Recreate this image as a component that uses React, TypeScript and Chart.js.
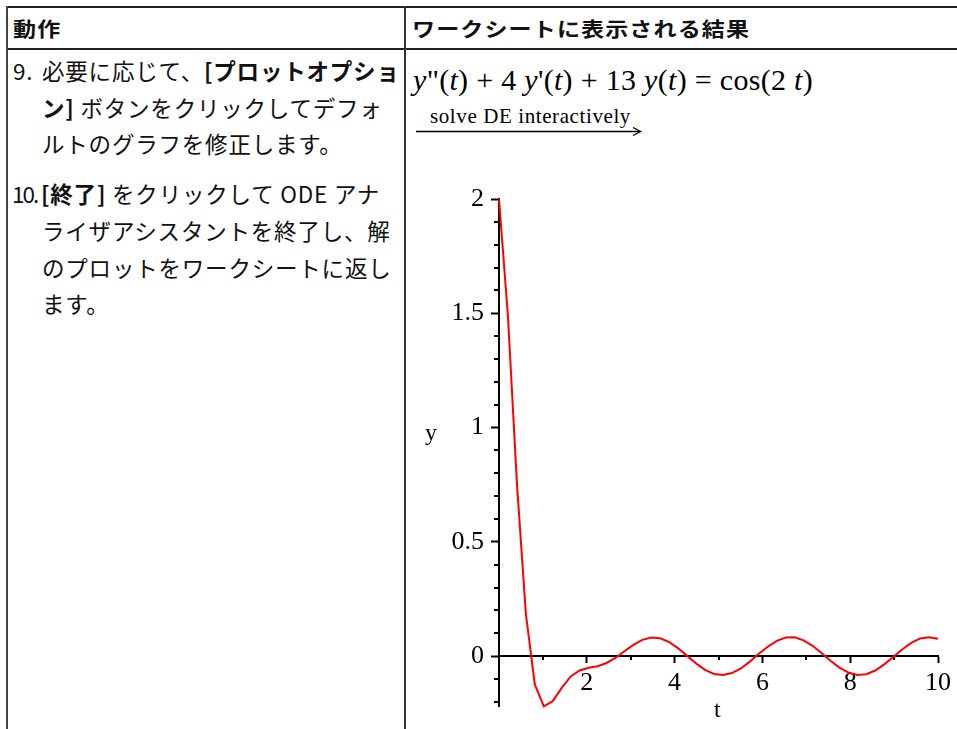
import React, { useEffect, useRef } from "react";
import { Chart, registerables } from "chart.js";

Chart.register(...registerables);

// ---- chart data ----
const T_VALUES = [
  0, 0.204, 0.408, 0.612, 0.816, 1.02, 1.224, 1.429, 1.633, 1.837,
  2.041, 2.245, 2.449, 2.653, 2.857, 3.061, 3.265, 3.469, 3.673, 3.878,
  4.082, 4.286, 4.49, 4.694, 4.898, 5.102, 5.306, 5.51, 5.714, 5.918,
  6.122, 6.327, 6.531, 6.735, 6.939, 7.143, 7.347, 7.551, 7.755, 7.959,
  8.163, 8.367, 8.571, 8.776, 8.98, 9.184, 9.388, 9.592, 9.796, 10,
];
const Y_VALUES = [
  2, 1.486, 0.757, 0.185, -0.124, -0.22, -0.197, -0.139, -0.089, -0.063,
  -0.051, -0.044, -0.03, -0.008, 0.021, 0.049, 0.071, 0.081, 0.078, 0.061,
  0.034, 0.001, -0.032, -0.06, -0.078, -0.083, -0.074, -0.054, -0.024, 0.01,
  0.041, 0.067, 0.081, 0.082, 0.069, 0.045, 0.014, -0.02, -0.05, -0.072,
  -0.083, -0.079, -0.063, -0.036, -0.004, 0.029, 0.058, 0.077, 0.083, 0.076,
];
const X_MIN = 0;
const X_MAX = 10;
const Y_MIN = -0.22;
const Y_MAX = 2;
const X_MAJOR_TICKS = [2, 4, 6, 8, 10];
const X_MAJOR_LABELS = ["2", "4", "6", "8", "10"];
const X_MINOR_TICKS = [1, 3, 5, 7, 9];
const Y_MAJOR_TICKS = [0, 0.5, 1, 1.5, 2];
const Y_MAJOR_LABELS = ["0", "0.5", "1", "1.5", "2"];
const Y_MINOR_TICKS = [
  -0.2, -0.1, 0.1, 0.2, 0.3, 0.4, 0.6, 0.7, 0.8, 0.9, 1.1, 1.2, 1.3, 1.4, 1.6, 1.7, 1.8, 1.9,
];
const X_TITLE = "t";
const Y_TITLE = "y";

// ---- page text ----
const HEADER_LEFT = "動作";
const HEADER_RIGHT = "ワークシートに表示される結果";

const CJK = '"Noto Sans CJK JP", "Noto Sans", sans-serif';
const SERIF = '"Liberation Serif", "Times New Roman", serif';

function Txt(props: {
  x: number;
  cy: number;
  size: number;
  lh: number;
  family: string;
  style?: React.CSSProperties;
  children?: React.ReactNode;
}) {
  const { x, cy, size, lh, family, style, children } = props;
  return (
    <div
      style={{
        position: "absolute",
        left: x,
        top: cy - lh / 2,
        height: lh,
        lineHeight: lh + "px",
        fontSize: size,
        fontFamily: family,
        whiteSpace: "nowrap",
        color: "#111",
        ...style,
      }}
    >
      {children}
    </div>
  );
}

const minorTicksPlugin = {
  id: "minorTicks",
  beforeDatasetsDraw(chart: any) {
    const { ctx } = chart;
    const xs = chart.scales.x;
    const ys = chart.scales.y;
    const x0 = xs.getPixelForValue(0);
    const y0 = ys.getPixelForValue(0);
    ctx.save();
    ctx.strokeStyle = "#000";
    ctx.lineWidth = 2;
    ctx.beginPath();
    Y_MINOR_TICKS.forEach((v) => {
      const py = Math.round(ys.getPixelForValue(v));
      ctx.moveTo(x0 - 5, py);
      ctx.lineTo(x0, py);
    });
    X_MINOR_TICKS.forEach((v) => {
      const px = Math.round(xs.getPixelForValue(v));
      ctx.moveTo(px, y0);
      ctx.lineTo(px, y0 + 4);
    });
    ctx.stroke();
    ctx.restore();
  },
};

function Plot() {
  const ref = useRef<HTMLCanvasElement | null>(null);
  useEffect(() => {
    if (!ref.current) return;
    const tickFont = { family: SERIF, size: 26 };
    const chart = new Chart(ref.current, {
      type: "line",
      data: {
        datasets: [
          {
            data: T_VALUES.map((t, i) => ({ x: t, y: Y_VALUES[i] })),
            borderColor: "#ff0000",
            borderWidth: 2,
            pointRadius: 0,
            tension: 0,
            fill: false,
            clip: false as any,
          },
        ],
      },
      options: {
        responsive: false,
        animation: false,
        devicePixelRatio: 1,
        layout: { padding: { left: 0, top: 39, right: 19, bottom: 19 } },
        plugins: { legend: { display: false }, tooltip: { enabled: false } },
        scales: {
          x: {
            type: "linear",
            min: X_MIN,
            max: X_MAX,
            position: { y: 0 } as any,
            afterBuildTicks: (s: any) => {
              s.ticks = X_MAJOR_TICKS.map((v) => ({ value: v }));
            },
            ticks: {
              autoSkip: false,
              maxRotation: 0,
              padding: 5,
              color: "#000",
              font: tickFont,
              callback: (v: any) => X_MAJOR_LABELS[X_MAJOR_TICKS.indexOf(Number(v))],
            },
            grid: {
              display: true,
              drawOnChartArea: false,
              drawTicks: true,
              tickLength: 6,
              tickWidth: 2,
              tickColor: "#000",
            },
            border: { display: true, color: "#000", width: 2 },
          },
          y: {
            type: "linear",
            min: Y_MIN,
            max: Y_MAX,
            position: "left",
            afterFit: (s: any) => {
              s.width = 89;
            },
            afterBuildTicks: (s: any) => {
              s.ticks = Y_MAJOR_TICKS.map((v) => ({ value: v }));
            },
            ticks: {
              autoSkip: false,
              padding: 7,
              color: "#000",
              font: tickFont,
              callback: (v: any) => Y_MAJOR_LABELS[Y_MAJOR_TICKS.indexOf(Number(v))],
            },
            grid: {
              display: true,
              drawOnChartArea: false,
              drawTicks: true,
              tickLength: 8,
              tickWidth: 2,
              tickColor: "#000",
            },
            border: { display: true, color: "#000", width: 2 },
          },
        },
      } as any,
      plugins: [minorTicksPlugin],
    });
    return () => chart.destroy();
  }, []);
  return (
    <canvas
      ref={ref}
      width={547}
      height={569}
      style={{ position: "absolute", left: 410, top: 160, width: 547, height: 569 }}
    />
  );
}

export default function App() {
  const body = { size: 22.5, lh: 32, family: CJK, style: { letterSpacing: "0.8px" } };
  return (
    <div
      style={{
        position: "absolute",
        left: 0,
        top: 0,
        width: 957,
        height: 729,
        overflow: "hidden",
        background: "#fff",
      }}
    >
      {/* table rules */}
      <div style={{ position: "absolute", left: 6, top: 6, width: 951, height: 2, background: "#222" }} />
      <div style={{ position: "absolute", left: 6, top: 48, width: 951, height: 2, background: "#222" }} />
      <div style={{ position: "absolute", left: 6, top: 6, width: 2, height: 723, background: "#444" }} />
      <div style={{ position: "absolute", left: 404, top: 6, width: 2, height: 723, background: "#333" }} />

      {/* header */}
      <Txt x={13} cy={29} size={20} lh={28} family={CJK}
        style={{ fontWeight: 700, letterSpacing: "1px", transform: "scaleX(1.15)", transformOrigin: "left center" }}>
        {HEADER_LEFT}
      </Txt>
      <Txt x={412} cy={29} size={20} lh={28} family={CJK}
        style={{ fontWeight: 700, letterSpacing: "1px", transform: "scaleX(1.15)", transformOrigin: "left center" }}>
        {HEADER_RIGHT}
      </Txt>

      {/* left column text */}
      <Txt x={13} cy={70} {...body}>9.</Txt>
      <Txt x={42} cy={70} {...body}>
        必要に応じて、<b>[プロットオプショ</b>
      </Txt>
      <Txt x={42} cy={106.5} {...body}>
        <b>ン]</b> ボタンをクリックしてデフォ
      </Txt>
      <Txt x={42} cy={143} {...body}>ルトのグラフを修正します。</Txt>
      <Txt x={12} cy={193} {...body} style={{ letterSpacing: "-2px" }}>10.</Txt>
      <Txt x={41} cy={193} {...body}>
        <b>[終了]</b> をクリックして ODE アナ
      </Txt>
      <Txt x={42} cy={230} {...body}>ライザアシスタントを終了し、解</Txt>
      <Txt x={42} cy={266.5} {...body}>のプロットをワークシートに返し</Txt>
      <Txt x={42} cy={303} {...body}>ます。</Txt>

      {/* right column: equation */}
      <Txt x={413} cy={80} size={30} lh={36} family={SERIF} style={{ color: "#000", letterSpacing: "0.3px" }}>
        <i>y</i>"(<i>t</i>) + 4 <i>y</i>'(<i>t</i>) + 13 <i>y</i>(<i>t</i>) = cos(2 <i>t</i>)
      </Txt>
      <Txt x={430} cy={116} size={21} lh={26} family={SERIF} style={{ color: "#000", letterSpacing: "0.6px" }}>
        solve DE interactively
      </Txt>
      <svg
        width={232}
        height={14}
        style={{ position: "absolute", left: 414, top: 124 }}
      >
        <line x1={2} y1={7.5} x2={226} y2={7.5} stroke="#000" strokeWidth={1.4} />
        <polyline points="219,3.5 226.5,7.5 219,11.5" fill="none" stroke="#000" strokeWidth={1.4} />
      </svg>

      {/* plot */}
      <Plot />
      <Txt x={425} cy={432} size={24} lh={28} family={SERIF} style={{ color: "#000" }}>{Y_TITLE}</Txt>
      <Txt x={714} cy={709} size={24} lh={28} family={SERIF} style={{ color: "#000" }}>{X_TITLE}</Txt>
    </div>
  );
}
